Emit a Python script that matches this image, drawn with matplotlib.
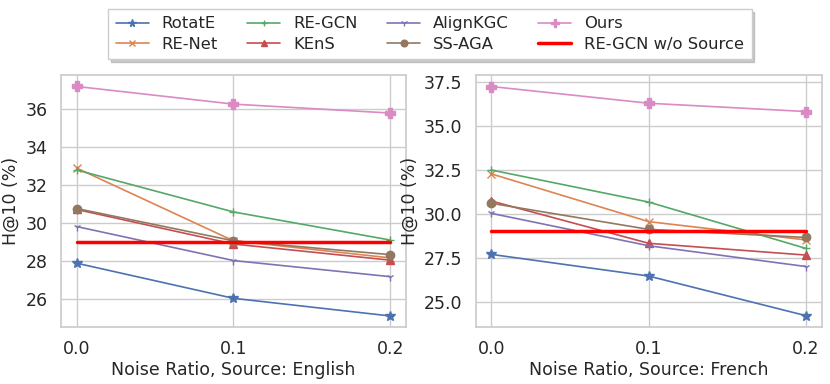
import matplotlib
matplotlib.use("Agg")
import matplotlib.pyplot as plt
import seaborn as sns

sns.set_theme(style="whitegrid", palette="deep")
plt.rcParams['font.family'] = ['DejaVu Sans']

noise = [0.0, 0.1, 0.2]
methods = ["RotatE", "RE-Net", "RE-GCN", "KEnS", "AlignKGC", "SS-AGA", "Ours"]
markers = ["*", "x", "+", "^", "1", "o", "P"]

# H@10 values, source English
english = {
    "RotatE": [27.87, 26.02, 25.09],
    "RE-Net": [32.88, 29.05, 28.15],
    "RE-GCN": [32.78, 30.57, 29.09],
    "KEnS": [30.70, 28.88, 28.03],
    "AlignKGC": [29.80, 28.01, 27.16],
    "SS-AGA": [30.75, 29.05, 28.32],
    "Ours": [37.18, 36.25, 35.78],
}
# H@10 values, source French
french = {
    "RotatE": [27.69, 26.46, 24.21],
    "RE-Net": [32.26, 29.55, 28.51],
    "RE-GCN": [32.48, 30.66, 28.03],
    "KEnS": [30.72, 28.32, 27.65],
    "AlignKGC": [30.02, 28.18, 27.00],
    "SS-AGA": [30.59, 29.11, 28.65],
    "Ours": [37.22, 36.27, 35.80],
}
no_source = [29.0, 29.0]  # RE-GCN w/o Source, English / French
sources = ["English", "French"]

fig = plt.figure(figsize=(8.3, 3.84), dpi=100)
ax1 = fig.add_axes([0.0735, 0.149, 0.4155, 0.656])
ax2 = fig.add_axes([0.573, 0.149, 0.417, 0.656])
colors = sns.color_palette("deep")

for ax, data, ref, src in zip([ax1, ax2], [english, french], no_source, sources):
    for i, m in enumerate(methods):
        ms = 7 if markers[i] in ["*", "P"] else 6
        ax.plot(noise, data[m], marker=markers[i], color=colors[i], label=m,
                linewidth=1.2, markersize=ms)
    ax.plot([noise[0], noise[-1]], [ref, ref], color="red", linewidth=2.5,
            label="RE-GCN w/o Source")
    ax.set_xticks(noise)
    ax.set_xticklabels(["0.0", "0.1", "0.2"])
    ax.set_xlabel("Noise Ratio, Source: " + src, fontsize=12.5, labelpad=2)
    ax.set_ylabel("H@10 (%)", fontsize=12.5)
    ax.tick_params(labelsize=12.5)

ax1.set_ylim(24.52, 37.79)
ax1.set_yticks([26, 28, 30, 32, 34, 36])
ax2.set_ylim(23.58, 37.88)
ax2.set_yticks([25.0, 27.5, 30.0, 32.5, 35.0, 37.5])

handles, labels = ax1.get_legend_handles_labels()
fig.legend(handles, labels, loc="upper center", bbox_to_anchor=(0.518, 0.998),
           ncol=4, fontsize=11.8, frameon=True, markerscale=0.8,
           shadow={"color": "0.6", "alpha": 0.5}, fancybox=False,
           edgecolor="#cccccc", columnspacing=1.8, handlelength=2.0,
           borderpad=0.45, labelspacing=0.35)

fig.savefig("out.png", dpi=100)
